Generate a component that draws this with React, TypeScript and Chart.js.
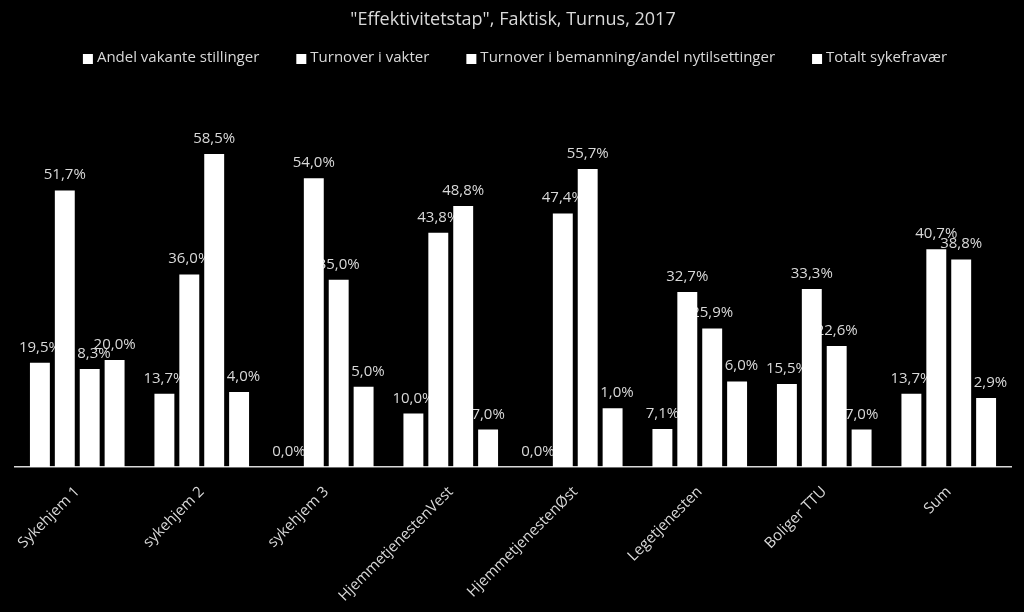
import React, { useEffect, useRef } from "react";
import { Chart, registerables } from "chart.js";

Chart.register(...registerables);

const TITLE = '"Effektivitetstap", Faktisk, Turnus, 2017';

const categories = [
  "Sykehjem 1",
  "sykehjem 2",
  "sykehjem 3",
  "HjemmetjenestenVest",
  "HjemmetjenestenØst",
  "Legetjenesten",
  "Boliger TTU",
  "Sum",
];

const seriesNames = [
  "Andel vakante stillinger",
  "Turnover i vakter",
  "Turnover i bemanning/andel nytilsettinger",
  "Totalt sykefravær",
];

const andelVakante = [0.195, 0.137, 0.0, 0.1, 0.0, 0.071, 0.155, 0.137];
const turnoverVakter = [0.517, 0.36, 0.54, 0.438, 0.474, 0.327, 0.333, 0.407];
const turnoverBemanning = [0.183, 0.585, 0.35, 0.488, 0.557, 0.259, 0.226, 0.388];
const sykefravaer = [0.2, 0.14, 0.15, 0.07, 0.11, 0.16, 0.07, 0.129];

const seriesValues = [andelVakante, turnoverVakter, turnoverBemanning, sykefravaer];

const FONT = "'Open Sans', 'Noto Sans', sans-serif";
const TEXT = "#d9d9d9";

const fmt = (v: number) => (v * 100).toFixed(1).replace(".", ",") + "%";

const dataLabelPlugin = {
  id: "dataLabels",
  beforeDatasetsDraw(chart: any) {
    const ctx = chart.ctx;
    ctx.save();
    ctx.font = `15px ${FONT}`;
    ctx.fillStyle = TEXT;
    ctx.textAlign = "center";
    ctx.textBaseline = "alphabetic";
    chart.data.datasets.forEach((ds: any, di: number) => {
      const meta = chart.getDatasetMeta(di);
      meta.data.forEach((el: any, i: number) => {
        ctx.fillText(fmt(ds.data[i]), el.x, el.y - 11);
      });
    });
    ctx.restore();
  },
};

const legendPlugin = {
  id: "customLegend",
  afterDraw(chart: any) {
    const ctx = chart.ctx;
    ctx.save();
    ctx.font = `15px ${FONT}`;
    const box = 10;
    const gap = 4;
    const spacing = 37;
    const names = chart.data.datasets.map((d: any) => d.label as string);
    const widths = names.map((n: string) => box + gap + ctx.measureText(n).width);
    const total = widths.reduce((a: number, b: number) => a + b, 0) + spacing * (names.length - 1);
    const area = chart.chartArea;
    let x = (area.left + area.right) / 2 - total / 2 + 2;
    const y = 58;
    names.forEach((n: string, i: number) => {
      ctx.fillStyle = "#ffffff";
      ctx.fillRect(x, y - box / 2 + 1, box, box);
      ctx.fillStyle = TEXT;
      ctx.textAlign = "left";
      ctx.textBaseline = "middle";
      ctx.fillText(n, x + box + gap, y);
      x += widths[i] + spacing;
    });
    ctx.restore();
  },
};

export default function App() {
  const ref = useRef<HTMLCanvasElement | null>(null);

  useEffect(() => {
    document.body.style.margin = "0";
    document.body.style.background = "#000";
    const canvas = ref.current;
    if (!canvas) return;
    const chart = new Chart(canvas, {
      type: "bar",
      data: {
        labels: categories,
        datasets: seriesValues.map((vals, i) => ({
          label: seriesNames[i],
          data: vals,
          backgroundColor: "#ffffff",
          borderWidth: 0,
          categoryPercentage: 0.8,
          barPercentage: 0.8,
        })),
      },
      plugins: [dataLabelPlugin, legendPlugin],
      options: {
        responsive: false,
        animation: false,
        devicePixelRatio: 1,
        layout: { padding: { top: 0, left: 15, right: 13, bottom: 0 } },
        plugins: {
          legend: { display: false },
          tooltip: { enabled: false },
          title: {
            display: true,
            text: TITLE,
            color: TEXT,
            font: { family: FONT, size: 18, weight: "normal" },
            padding: { top: 9, bottom: 62 },
          },
        },
        scales: {
          x: {
            grid: { display: false, drawTicks: false },
            border: { display: true, color: TEXT, width: 1.5 },
            ticks: {
              color: TEXT,
              font: { family: FONT, size: 15 },
              maxRotation: 45,
              minRotation: 45,
              padding: 16,
              autoSkip: false,
            },
            afterFit: (scale: any) => {
              scale.height = 145;
            },
          },
          y: {
            display: false,
            min: 0,
            max: 0.7,
          },
        },
      },
    });
    return () => chart.destroy();
  }, []);

  return (
    <div style={{ width: 1024, height: 612, background: "#000" }}>
      <canvas ref={ref} width={1024} height={612} style={{ display: "block" }} />
    </div>
  );
}
